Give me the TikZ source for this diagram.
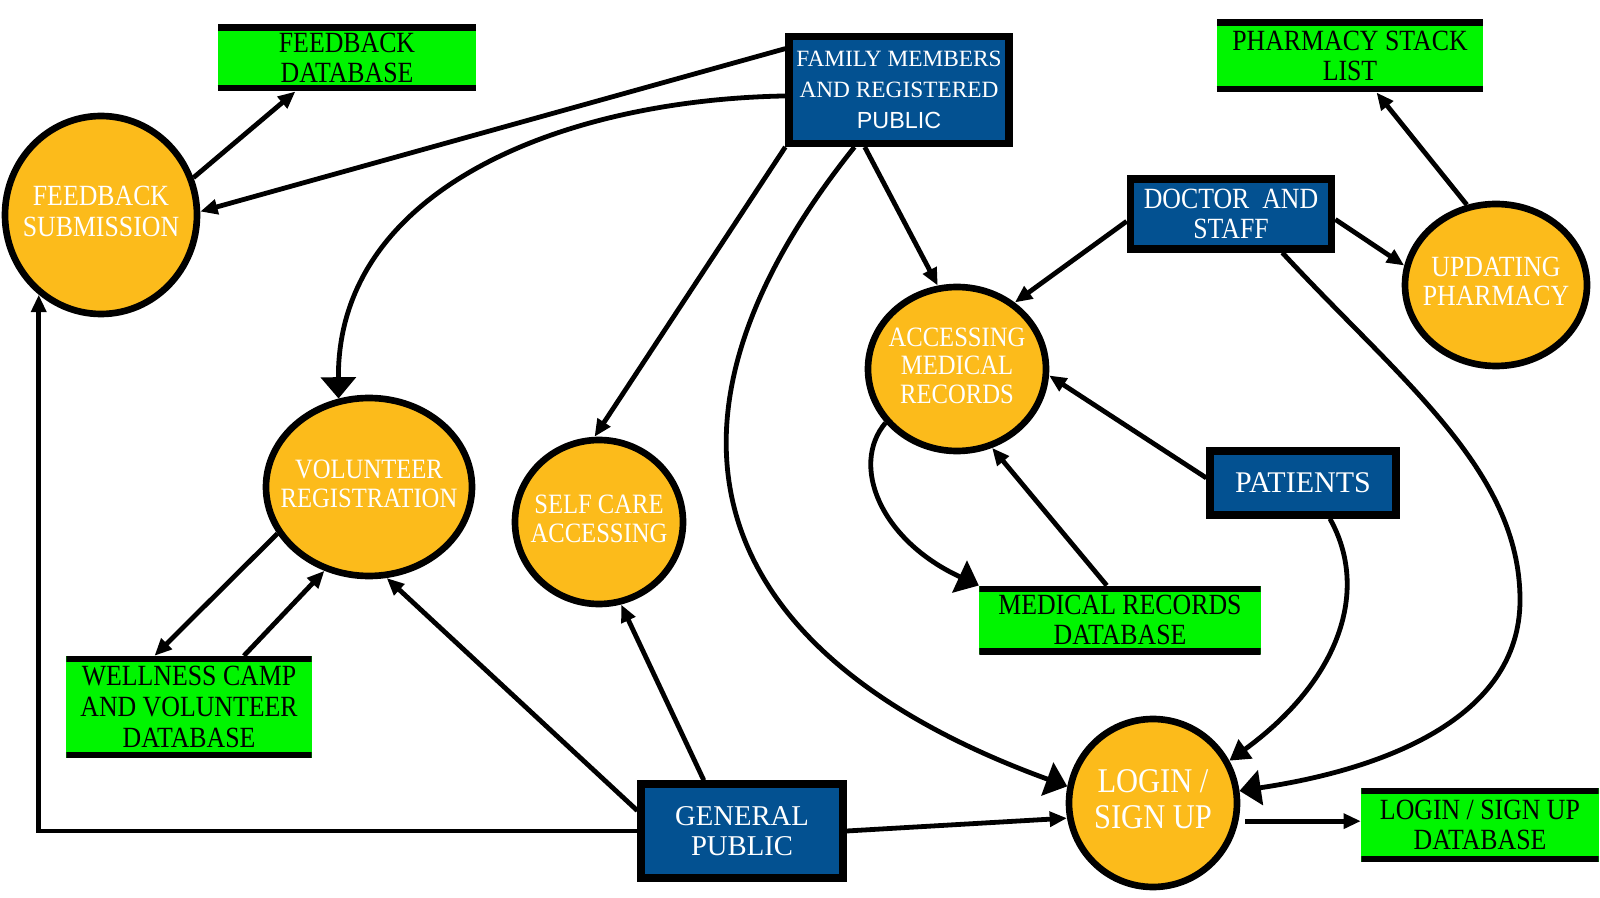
\documentclass[tikz,border=0pt]{standalone}
\usepackage{fontspec}
\setmainfont{Liberation Serif}
\setsansfont{Liberation Sans}
\newfontfamily\narrowfont{Liberation Serif}[FakeStretch=0.88]
\usetikzlibrary{shapes.geometric,arrows.meta}

\definecolor{procorange}{RGB}{252,187,27}
\definecolor{entblue}{RGB}{3,81,145}
\definecolor{storegreen}{RGB}{0,245,0}

\newcommand{\pname}[1]{\makebox[0pt]{\begin{tabular}{@{}c@{}}#1\end{tabular}}}

\tikzset{every picture/.style={line width=0.75pt},
  proc/.style={ellipse, draw=black, line width=5pt, fill=procorange, text=white, inner sep=0pt,
    font=\narrowfont\fontsize{21}{21.5}\selectfont},
  extent/.style={rectangle, draw=black, line width=5.5pt, fill=entblue, text=white, inner sep=0pt, align=center},
  store/.style={rectangle, fill=storegreen, inner sep=0pt, align=center,
    font=\narrowfont\fontsize{22}{23}\selectfont,
    path picture={\draw[line width=9pt] (path picture bounding box.north west) -- (path picture bounding box.north east)
      (path picture bounding box.south west) -- (path picture bounding box.south east);}},
  flow/.style={line width=3.6pt, -{Triangle[length=13pt,width=11pt]}},
  midflow/.style={flow, -{Triangle[length=15pt,width=17pt]}},
  bigflow/.style={flow, -{Triangle[length=16pt,width=26pt]}}
}

\begin{document}
\begin{tikzpicture}[x=0.75pt,y=0.75pt,yscale=-1,xscale=1]
	\useasboundingbox (0,0) rectangle (1600,898);

	% Processes
	\node[proc, minimum width=144pt, minimum height=148.5pt, font=\narrowfont\fontsize{22}{23}\selectfont] (fsub) at (101,215) {\pname{FEEDBACK\\SUBMISSION}};
	\node[proc, minimum width=136.5pt, minimum height=121.5pt, font=\narrowfont\fontsize{22}{22}\selectfont] (upd) at (1496,285) {\pname{UPDATING\\PHARMACY}};
	\node[proc, minimum width=133.5pt, minimum height=123pt] (acc) at (957,369) {\pname{ACCESSING\\MEDICAL\\RECORDS}};
	\node[proc, minimum width=154.5pt, minimum height=133.5pt] (vol) at (369,487) {\pname{VOLUNTEER\\REGISTRATION}};
	\node[proc, minimum width=126pt, minimum height=123pt] (self) at (599,522) {\pname{SELF CARE\\ACCESSING}};
	\node[proc, minimum width=126pt, minimum height=126pt, font=\narrowfont\fontsize{26}{27}\selectfont] (login) at (1153,803) {\pname{LOGIN /\\SIGN UP}};

	% External entities
	\node[extent, minimum width=165pt, minimum height=80pt, font=\fontsize{17.5}{23}\selectfont] (fam) at (899,90) {FAMILY MEMBERS\\AND REGISTERED\\{\sffamily PUBLIC}};
	\node[extent, minimum width=151pt, minimum height=52.5pt, font=\narrowfont\fontsize{22}{23}\selectfont] (doc) at (1231,214) {DOCTOR\ \ AND\\STAFF};
	\node[extent, minimum width=139.5pt, minimum height=48pt, font=\fontsize{22.5}{23}\selectfont] (pat) at (1303,483) {PATIENTS};
	\node[extent, minimum width=151.5pt, minimum height=70.5pt, font=\fontsize{21.5}{23}\selectfont] (gen) at (742,831) {GENERAL\\PUBLIC};

	% Data stores
	\node[store, minimum width=194pt, minimum height=49.5pt] (fdb) at (347,58) {FEEDBACK\\DATABASE};
	\node[store, minimum width=200pt, minimum height=54pt] (psl) at (1350,56) {PHARMACY STACK\\LIST};
	\node[store, minimum width=211pt, minimum height=51pt] (mdb) at (1120,620) {MEDICAL RECORDS\\DATABASE};
	\node[store, minimum width=184pt, minimum height=76pt] (wdb) at (189,707) {WELLNESS CAMP\\AND VOLUNTEER\\DATABASE};
	\node[store, minimum width=178pt, minimum height=55pt] (ldb) at (1480,825) {LOGIN / SIGN UP\\DATABASE};

	%Straight Lines
	\draw[flow] (fsub.22) -- (fdb.213);
	\draw[flow] (fam.160) -- (fsub.2);
	\draw[flow] (fam.south west) -- (self.93);
	\draw[flow] (fam.239) -- (acc.103);
	\draw[flow] (doc.184) -- (acc.49);
	\draw[flow] (doc.-3) -- (upd.168);
	\draw[flow] (upd.110) -- (psl.-54);
	\draw[flow] (pat.177) -- (acc.-4);
	\draw[flow] (mdb.111) -- (acc.-66);
	\draw[flow] (vol.207) -- (wdb.124);
	\draw[flow] (wdb.43) -- (vol.-118);
	\draw[flow] (gen.169) -- (vol.-79);
	\draw[flow] (gen.127) -- (self.-75);
	\draw[flow] (gen.west) -| (fsub.232);
	\draw[flow] (gen.east) -- (login.190);
	\draw[flow, shorten <=5pt] (login.-12) -- (login.-12 -| ldb.west);

	%Curve Lines
	\draw[bigflow] (fam.183) .. controls (560,100) and (337,190) .. (vol.109);
	\draw[bigflow] (fam.232) .. controls (620,440) and (720,660) .. (login.169);
	\draw[bigflow] (doc.-37) .. controls (1400,380) and (1520,470) .. (1520,600) .. controls (1520,720) and (1380,770) .. (login.8);
	\draw[bigflow] (acc.217) .. controls (850,465) and (880,540) .. (mdb.north west);
	\draw[midflow] (pat.-53) .. controls (1370,590) and (1340,680) .. (login.29);

\end{tikzpicture}
\end{document}
